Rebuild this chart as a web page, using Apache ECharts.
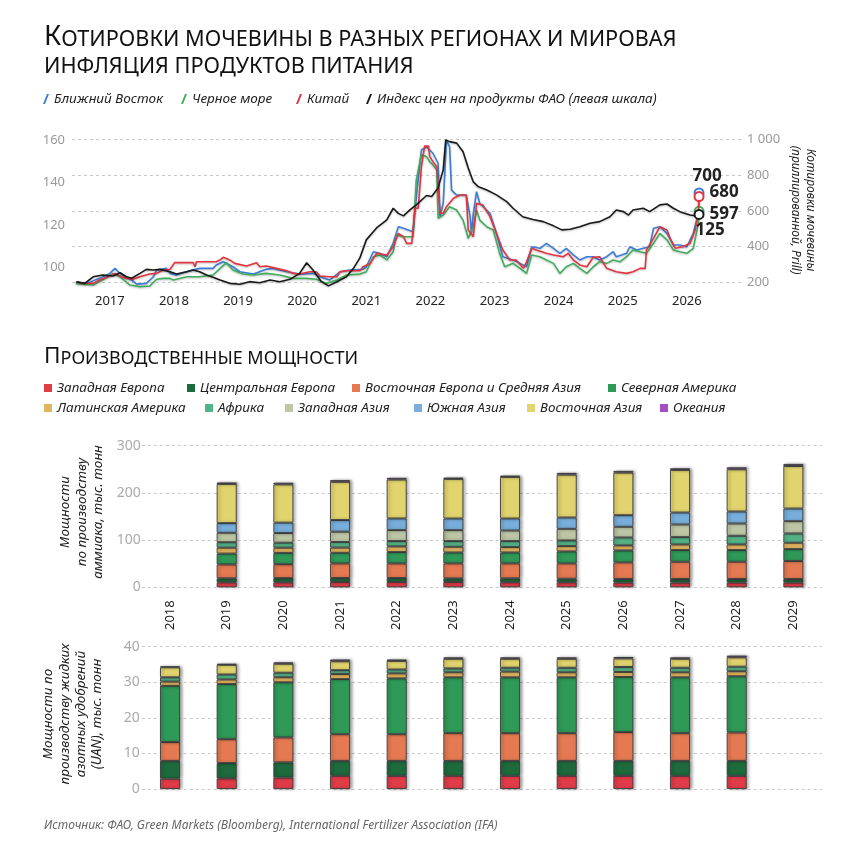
<!DOCTYPE html>
<html><head><meta charset="utf-8">
<script src="https://cdn.jsdelivr.net/npm/echarts@6/dist/echarts.min.js"></script>
<style>html,body{margin:0;padding:0;background:#fff}#c{width:860px;height:860px}</style>
</head><body><div id="c"></div>
<script>
// ---------- DATA: urea prices (right axis, $/t) and FAO index (left axis) ----------
const priceYearTicks = [2017, 2018, 2019, 2020, 2021, 2022, 2023, 2024, 2025, 2026];
const faoTicks = [100, 120, 140, 160];

const middleEast = [[2016.47,200],[2016.64,194],[2016.84,222],[2017.00,250],[2017.08,278],[2017.13,259],[2017.23,231],[2017.34,213],[2017.42,190],[2017.57,194],[2017.68,231],[2017.73,269],[2017.88,278],[2017.94,250],[2018.04,241],[2018.14,254],[2018.25,265],[2018.40,278],[2018.61,278],[2018.66,297],[2018.77,315],[2018.92,287],[2019.03,259],[2019.24,246],[2019.44,273],[2019.55,278],[2019.76,259],[2019.96,246],[2020.17,250],[2020.28,231],[2020.43,213],[2020.59,259],[2020.74,269],[2020.95,273],[2021.00,287],[2021.11,371],[2021.21,362],[2021.32,343],[2021.42,420],[2021.50,511],[2021.58,502],[2021.73,483],[2021.78,679],[2021.86,940],[2021.94,958],[2022.04,922],[2022.12,866],[2022.15,567],[2022.20,642],[2022.25,996],[2022.30,958],[2022.33,716],[2022.41,688],[2022.56,688],[2022.62,567],[2022.64,474],[2022.67,586],[2022.72,707],[2022.77,642],[2022.93,586],[2023.03,474],[2023.13,343],[2023.29,325],[2023.40,306],[2023.50,287],[2023.58,399],[2023.71,390],[2023.81,418],[2023.92,390],[2024.02,362],[2024.12,390],[2024.23,353],[2024.33,325],[2024.44,343],[2024.54,343],[2024.64,325],[2024.75,343],[2024.85,371],[2024.90,343],[2025.06,362],[2025.11,399],[2025.22,381],[2025.32,390],[2025.42,399],[2025.48,502],[2025.58,511],[2025.69,474],[2025.79,409],[2025.89,409],[2026.00,399],[2026.10,474],[2026.18,586],[2026.19,700]];

const blackSea = [[2016.47,194],[2016.74,185],[2016.90,217],[2017.05,250],[2017.16,231],[2017.31,185],[2017.47,176],[2017.62,179],[2017.73,217],[2017.83,222],[2017.94,222],[2017.99,213],[2018.20,231],[2018.40,231],[2018.61,241],[2018.72,278],[2018.82,310],[2018.92,269],[2019.08,246],[2019.24,241],[2019.44,250],[2019.65,241],[2019.86,222],[2020.07,222],[2020.22,217],[2020.38,194],[2020.54,213],[2020.69,241],[2020.90,246],[2021.00,259],[2021.11,343],[2021.21,353],[2021.32,325],[2021.42,371],[2021.47,465],[2021.58,455],[2021.73,455],[2021.78,772],[2021.86,915],[2021.94,903],[2021.99,875],[2022.04,856],[2022.10,828],[2022.12,558],[2022.20,576],[2022.30,623],[2022.41,604],[2022.51,548],[2022.59,446],[2022.67,511],[2022.72,604],[2022.77,548],[2022.88,511],[2022.98,493],[2023.08,362],[2023.16,287],[2023.29,306],[2023.40,278],[2023.50,250],[2023.58,353],[2023.71,343],[2023.81,325],[2023.92,306],[2024.02,250],[2024.12,287],[2024.23,306],[2024.33,278],[2024.44,250],[2024.54,287],[2024.64,315],[2024.75,306],[2024.85,325],[2024.96,315],[2025.06,343],[2025.16,381],[2025.27,371],[2025.37,362],[2025.48,418],[2025.58,474],[2025.69,437],[2025.79,381],[2025.89,371],[2026.00,362],[2026.10,390],[2026.18,530],[2026.19,597]];

const china = [[2016.48,203],[2016.58,195],[2016.74,194],[2016.84,213],[2016.95,228],[2017.08,250],[2017.18,231],[2017.26,222],[2017.36,217],[2017.47,231],[2017.62,246],[2017.73,250],[2017.83,269],[2017.94,273],[2018.01,310],[2018.30,310],[2018.33,287],[2018.35,315],[2018.66,315],[2018.72,325],[2018.77,340],[2018.87,325],[2018.95,306],[2019.13,291],[2019.29,310],[2019.34,287],[2019.44,291],[2019.60,278],[2019.76,265],[2019.86,250],[2019.96,246],[2020.12,259],[2020.22,259],[2020.28,235],[2020.43,231],[2020.54,231],[2020.59,259],[2020.69,265],[2020.90,265],[2020.95,287],[2021.06,306],[2021.16,362],[2021.32,353],[2021.42,399],[2021.50,474],[2021.58,455],[2021.63,418],[2021.71,418],[2021.76,614],[2021.81,614],[2021.86,847],[2021.91,962],[2021.97,962],[2021.99,903],[2022.04,875],[2022.10,847],[2022.15,586],[2022.20,586],[2022.25,623],[2022.36,670],[2022.46,688],[2022.56,688],[2022.59,493],[2022.67,455],[2022.72,642],[2022.82,632],[2022.93,567],[2023.03,474],[2023.13,381],[2023.24,325],[2023.34,325],[2023.45,278],[2023.50,315],[2023.58,390],[2023.65,381],[2023.81,362],[2023.92,353],[2024.07,343],[2024.15,362],[2024.23,325],[2024.33,297],[2024.44,287],[2024.54,340],[2024.64,343],[2024.75,278],[2024.90,259],[2025.06,250],[2025.16,259],[2025.27,278],[2025.35,278],[2025.37,381],[2025.48,446],[2025.58,511],[2025.69,493],[2025.74,446],[2025.82,390],[2025.94,399],[2026.05,418],[2026.13,493],[2026.18,586],[2026.19,680]];

const faoIndex = [[2016.48,93.3],[2016.61,92.5],[2016.74,95.6],[2016.89,96.4],[2017.05,96.0],[2017.16,97.5],[2017.26,95.6],[2017.34,94.9],[2017.47,97.2],[2017.57,99.1],[2017.68,98.8],[2017.78,99.1],[2017.94,98.0],[2018.04,96.9],[2018.20,98.0],[2018.30,98.8],[2018.40,98.0],[2018.51,96.4],[2018.61,95.4],[2018.72,94.1],[2018.87,92.5],[2019.03,92.1],[2019.18,93.3],[2019.34,92.8],[2019.50,94.1],[2019.65,93.3],[2019.81,94.4],[2019.96,97.2],[2020.07,102.2],[2020.17,98.8],[2020.30,93.3],[2020.41,91.3],[2020.54,93.3],[2020.69,95.6],[2020.80,99.6],[2020.90,104.5],[2021.00,113.0],[2021.16,118.6],[2021.32,122.4],[2021.42,127.9],[2021.50,125.5],[2021.58,124.3],[2021.68,127.1],[2021.78,129.5],[2021.94,133.9],[2022.02,133.4],[2022.12,137.5],[2022.20,146.0],[2022.24,160.1],[2022.30,159.3],[2022.41,158.6],[2022.51,154.5],[2022.59,146.9],[2022.67,140.3],[2022.75,138.0],[2022.88,136.5],[2023.03,134.2],[2023.19,131.0],[2023.29,127.9],[2023.44,123.9],[2023.60,122.6],[2023.76,121.6],[2023.92,119.6],[2024.05,117.7],[2024.18,118.0],[2024.33,119.2],[2024.49,120.8],[2024.64,121.6],[2024.80,123.9],[2024.90,127.1],[2025.01,126.3],[2025.09,124.7],[2025.16,127.1],[2025.32,127.9],[2025.42,126.3],[2025.58,129.5],[2025.69,129.9],[2025.79,127.9],[2025.89,126.3],[2026.05,124.7],[2026.15,124.3],[2026.19,125]];

// ---------- DATA: capacities ----------
const capYears = ['2018','2019','2020','2021','2022','2023','2024','2025','2026','2027','2028','2029'];
const regionNames = ['Западная Европа','Центральная Европа','Восточная Европа и Средняя Азия','Северная Америка','Латинская Америка','Африка','Западная Азия','Южная Азия','Восточная Азия','Океания'];

// ammonia capacity (first category 2018 has no bar)
const ammWestEurope    = [null,10.5,10.5,11.3,11.3,11.3,10.6,10.6, 9.9, 9.9, 9.9, 9.9];
const ammCentralEurope = [null, 8.5, 9.0, 8.4, 8.4, 7.7, 8.4, 7.7, 7.7, 7.7, 7.7, 7.7];
const ammEastEuropeCA  = [null,29.5,29.5,31.0,31.0,31.7,31.7,32.4,35.2,36.6,36.6,38.0];
const ammNorthAmerica  = [null,23.0,24.0,22.5,24.0,23.2,23.2,25.4,25.4,24.7,24.7,25.4];
const ammLatinAmerica  = [null,12.5,11.0,11.0,12.0,12.0,11.3,11.2,10.5,11.9,11.9,13.4];
const ammAfrica        = [null,11.5,10.5,11.8,11.3,12.0,12.7,12.0,16.9,15.5,18.4,19.7];
const ammWestAsia      = [null,20.0,20.5,21.8,23.2,23.2,22.5,24.6,22.6,26.8,26.0,26.0];
const ammSouthAsia     = [null,20.5,22.0,24.7,24.7,24.7,25.4,24.0,24.6,25.4,25.4,26.8];
const ammEastAsia      = [null,83.0,81.0,81.0,82.4,83.8,88.0,90.8,90.1,90.1,89.4,90.1];
const ammOceania       = [null, 3.0, 3.5, 3.5, 3.5, 2.8, 2.8, 3.6, 3.6, 3.5, 4.2, 4.3];

// UAN capacity (bars sit on the first eleven category slots)
const uanWestEurope    = [2.9,3.0,3.2,3.7,3.7,3.7,3.7,3.7,3.7,3.7,3.7,null];
const uanCentralEurope = [5.0,4.3,4.3,4.2,4.2,4.2,4.2,4.2,4.2,4.2,4.2,null];
const uanEastEuropeCA  = [5.3,6.7,7.0,7.5,7.5,7.8,7.8,7.8,8.1,7.8,8.0,null];
const uanNorthAmerica  = [15.8,15.5,15.5,15.5,15.7,15.7,15.7,15.7,15.5,15.7,15.8,null];
const uanLatinAmerica  = [1.2,1.3,1.4,1.4,1.4,1.4,1.6,1.4,1.4,1.4,1.4,null];
const uanAfrica        = [1.2,1.4,1.3,1.1,1.1,1.1,1.1,1.3,1.4,1.3,1.3,null];
const uanWestAsia      = [null,null,null,null,null,null,null,null,null,null,null,null];
const uanSouthAsia     = [null,null,null,null,null,null,null,null,null,null,null,null];
const uanEastAsia      = [2.8,2.7,2.5,2.5,2.4,2.7,2.5,2.5,2.4,2.5,2.6,null];
const uanOceania       = [0.3,0.3,0.4,0.5,0.4,0.4,0.4,0.4,0.4,0.4,0.5,null];

// ---------- STYLE ----------
const FF = 'Noto Sans';
const regionColors = ['#e03c48','#1d6b3d','#e57a52','#2f9a58','#e4b660','#55b487','#bcc6a4','#77aedb','#e1d46e','#a84cc4'];
const ammData = [ammWestEurope,ammCentralEurope,ammEastEuropeCA,ammNorthAmerica,ammLatinAmerica,ammAfrica,ammWestAsia,ammSouthAsia,ammEastAsia,ammOceania];
const uanData = [uanWestEurope,uanCentralEurope,uanEastEuropeCA,uanNorthAmerica,uanLatinAmerica,uanAfrica,uanWestAsia,uanSouthAsia,uanEastAsia,uanOceania];

const chart = echarts.init(document.getElementById('c'), null, {renderer: 'canvas'});

function withEnd(data, color, label) {
  return data.map((p, i) => i === data.length - 1 ? {
    value: p, symbol: 'circle', symbolSize: 9,
    itemStyle: {color: '#fff', borderColor: color, borderWidth: 2},
    label: Object.assign({show: true, fontFamily: FF, fontWeight: 'bold', fontSize: 17, color: '#222'}, label)
  } : p);
}

const dashed = {show: true, lineStyle: {color: '#c9c9c9', type: [3, 3], width: 1}};

function lineSeries(name, data, color, yIdx, label, z) {
  return {
    name, type: 'line', xAxisIndex: 0, yAxisIndex: yIdx, symbol: 'none', showSymbol: true,
    clip: false, z: z, animation: false,
    data: withEnd(data, color, label),
    lineStyle: {color, width: 1.6, shadowColor: 'rgba(0,0,0,0.25)', shadowBlur: 2, shadowOffsetY: 1},
    itemStyle: {color}
  };
}

const series = [
  lineSeries('Ближний Восток', middleEast, '#3b7dd8', 1, {formatter: () => '700', position: 'top', distance: 3, offset: [8, 0]}, 3),
  lineSeries('Черное море', blackSea, '#3fae5c', 1, {formatter: () => '597', position: 'right', distance: 5, offset: [0, 3]}, 3),
  lineSeries('Китай', china, '#e5333f', 1, {formatter: () => '680', position: 'right', distance: 5, offset: [0, -4]}, 4),
  lineSeries('Индекс цен на продукты ФАО (левая шкала)', faoIndex, '#1a1a1a', 0, {formatter: () => '125', position: 'bottom', distance: 2, offset: [11, 0]}, 5)
];

const barItem = (color) => ({color, borderColor: '#3a3a3a', borderWidth: 0.9,
  shadowColor: 'rgba(0,0,0,0.35)', shadowBlur: 3, shadowOffsetX: 2, shadowOffsetY: 0});

regionNames.forEach((name, i) => {
  series.push({name, type: 'bar', stack: 'amm', xAxisIndex: 1, yAxisIndex: 2, barWidth: 20,
    data: ammData[i], itemStyle: barItem(regionColors[i]), animation: false});
});
regionNames.forEach((name, i) => {
  series.push({name, type: 'bar', stack: 'uan', xAxisIndex: 2, yAxisIndex: 3, barWidth: 20,
    data: uanData[i], itemStyle: barItem(regionColors[i]), animation: false});
});

// legends (each item placed on its own; legend padding = 0)
const slash = 'path://M4,0 L6,0 L2,10 L0,10 Z';
const lineLegendPos = [43, 181, 296, 366];
const lineNames = ['Ближний Восток','Черное море','Китай','Индекс цен на продукты ФАО (левая шкала)'];
const legendText = {fontFamily: FF, fontStyle: 'italic', fontSize: 13.5, color: '#222'};
const legends = lineNames.map((n, i) => ({
  data: [n], left: lineLegendPos[i], top: 92, padding: 0, icon: slash, itemWidth: 6, itemHeight: 11,
  textStyle: legendText, selectedMode: false
}));
const barLegendPos = [[44,381],[187,381],[352,381],[608,381],[44,401],[205,401],[285,401],[414,401],[527,401],[660,401]];
regionNames.forEach((n, i) => {
  legends.push({data: [n], left: barLegendPos[i][0], top: barLegendPos[i][1], padding: 0, icon: 'rect', itemWidth: 8, itemHeight: 8,
    itemStyle: {borderWidth: 0, shadowBlur: 0, shadowOffsetX: 0},
    textStyle: legendText, selectedMode: false});
});

const option = {
  backgroundColor: '#fff',
  animation: false,
  textStyle: {fontFamily: FF},
  title: [
    {left: 44, top: 24, padding: 0, text: '{a|К}{b|ОТИРОВКИ МОЧЕВИНЫ В РАЗНЫХ РЕГИОНАХ И МИРОВАЯ}\n{b|ИНФЛЯЦИЯ ПРОДУКТОВ ПИТАНИЯ}',
     textStyle: {fontWeight: 'normal', rich: {
       a: {fontFamily: FF, fontWeight: 'normal', fontSize: 27.5, color: '#111', lineHeight: 27, verticalAlign: 'bottom'},
       b: {fontFamily: FF, fontWeight: 'normal', fontSize: 21.7, color: '#111', lineHeight: 27, verticalAlign: 'bottom'}}}},
    {left: 44, top: 345, padding: 0, text: '{a|П}{b|РОИЗВОДСТВЕННЫЕ МОЩНОСТИ}',
     textStyle: {fontWeight: 'normal', rich: {
       a: {fontFamily: FF, fontWeight: 'normal', fontSize: 22.5, color: '#111', verticalAlign: 'bottom'},
       b: {fontFamily: FF, fontWeight: 'normal', fontSize: 18, color: '#111', verticalAlign: 'bottom'}}}},
    {left: 44, top: 820, padding: 0, text: 'Источник: ФАО, Green Markets (Bloomberg), International Fertilizer Association (IFA)',
     textStyle: {fontFamily: FF, fontStyle: 'italic', fontWeight: 'normal', fontSize: 12, color: '#666'}}
  ],
  legend: legends,
  grid: [
    {left: 72, width: 670, top: 139.3, height: 143},
    {left: 141.7, width: 680, top: 445.7, height: 141.6},
    {left: 141.7, width: 680, top: 646.7, height: 142.3}
  ],
  xAxis: [
    {type: 'value', gridIndex: 0, min: 2016.41, max: 2026.86, splitLine: {show: false},
     axisLine: {show: false}, axisTick: {show: false},
     axisLabel: {customValues: priceYearTicks, formatter: v => String(Math.round(v)), color: '#222', fontSize: 13, margin: 12, fontFamily: FF}},
    {type: 'category', gridIndex: 1, data: capYears, axisLine: {show: false}, axisTick: {show: false},
     axisLabel: {rotate: 90, color: '#222', fontSize: 13, margin: 13, fontFamily: FF}},
    {type: 'category', gridIndex: 2, data: capYears, axisLine: {show: false}, axisTick: {show: false},
     axisLabel: {show: false}}
  ],
  yAxis: [
    {type: 'value', gridIndex: 0, position: 'left', min: 93, max: 160.4, splitLine: {show: false},
     axisLine: {show: false}, axisTick: {show: false},
     axisLabel: {customValues: faoTicks, color: '#999', fontSize: 13, margin: 7, fontFamily: FF}},
    {type: 'value', gridIndex: 0, position: 'right', min: 200, max: 1000, interval: 200, splitLine: dashed,
     axisLine: {show: false}, axisTick: {show: false},
     axisLabel: {formatter: v => v === 1000 ? '1 000' : String(v), color: '#999', fontSize: 13, margin: 5, fontFamily: FF}},
    {type: 'value', gridIndex: 1, min: 0, max: 300, interval: 100, splitLine: dashed,
     axisLine: {show: false}, axisTick: {show: false},
     axisLabel: {color: '#aaa', fontSize: 14, margin: 1, fontFamily: FF}},
    {type: 'value', gridIndex: 2, min: 0, max: 40, interval: 10, splitLine: dashed,
     axisLine: {show: false}, axisTick: {show: false},
     axisLabel: {color: '#aaa', fontSize: 14, margin: 2, fontFamily: FF}}
  ],
  graphic: [
    {type: 'text', x: 803, y: 210, rotation: -Math.PI / 2,
     style: {text: 'Котировки мочевины\n(приллированной, Prill)', fill: '#222', font: 'italic 12px "Noto Sans"',
             align: 'center', verticalAlign: 'middle', lineHeight: 15}},
    {type: 'text', x: 82, y: 512, rotation: Math.PI / 2,
     style: {text: 'Мощности\nпо производству\nаммиака, тыс. тонн', fill: '#222', font: 'italic 13.5px "Noto Sans"',
             align: 'center', verticalAlign: 'middle', lineHeight: 16.5}},
    {type: 'text', x: 73, y: 714, rotation: Math.PI / 2,
     style: {text: 'Мощности по\nпроизводству жидких\nазотных удобрений\n(UAN), тыс. тонн', fill: '#222', font: 'italic 13.5px "Noto Sans"',
             align: 'center', verticalAlign: 'middle', lineHeight: 16.3}}
  ],
  series
};
chart.setOption(option);
</script>
</body></html>
